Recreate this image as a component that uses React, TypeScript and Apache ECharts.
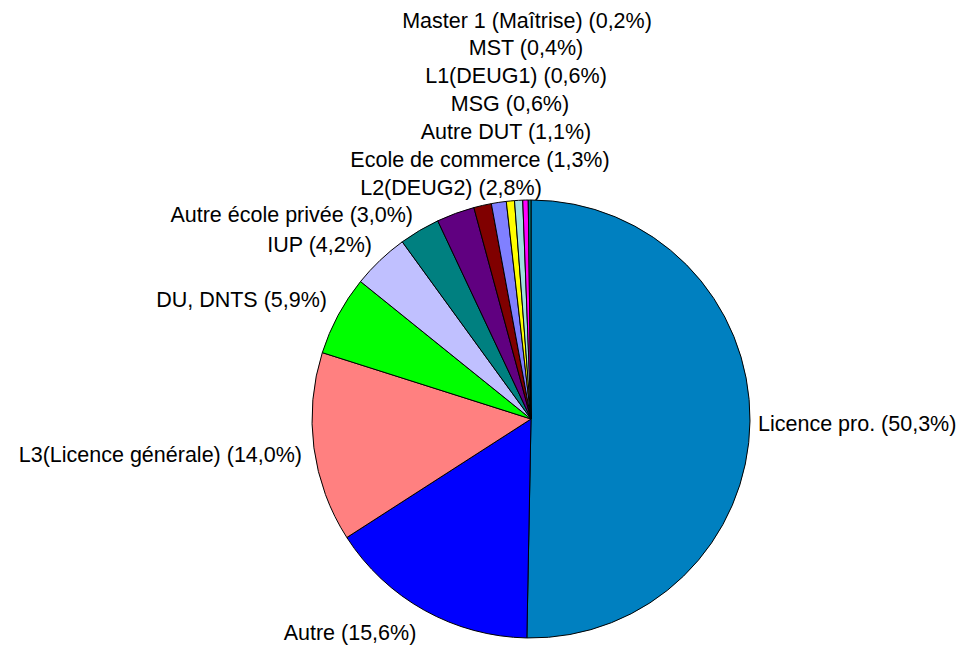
import React, { useEffect, useRef } from "react";
import * as echarts from "echarts";

const categories = [
  "Licence pro.",
  "Autre",
  "L3(Licence générale)",
  "DU, DNTS",
  "IUP",
  "Autre école privée",
  "L2(DEUG2)",
  "Ecole de commerce",
  "Autre DUT",
  "MSG",
  "L1(DEUG1)",
  "MST",
  "Master 1 (Maîtrise)",
];
const values = [50.3, 15.6, 14.0, 5.9, 4.2, 3.0, 2.8, 1.3, 1.1, 0.6, 0.6, 0.4, 0.2];
const colors = [
  "#0080C0", "#0000FF", "#FF8080", "#00FF00", "#C0C0FF", "#008080",
  "#600080", "#800000", "#8080FF", "#FFFF00", "#A0E0E0", "#FF00FF", "#008080",
];

// label anchor positions (x, y, align) — layout only
const labelPos: [number, number, string][] = [
  [758, 424, "left"],
  [350, 633, "center"],
  [302, 455, "right"],
  [327, 300, "right"],
  [372, 244.5, "right"],
  [413, 214.5, "right"],
  [451, 187.5, "center"],
  [480, 160, "center"],
  [506, 132, "center"],
  [510, 104, "center"],
  [516, 76, "center"],
  [526, 47.5, "center"],
  [527, 20.5, "center"],
];

export default function App() {
  const ref = useRef<HTMLDivElement>(null);
  useEffect(() => {
    document.body.style.margin = "0";
    const chart = echarts.init(ref.current!, null, { renderer: "svg" });
    chart.setOption({
      animation: false,
      backgroundColor: "#FFFFFF",
      series: [
        {
          type: "pie",
          center: [531, 419],
          radius: 219,
          startAngle: 90,
          clockwise: true,
          avoidLabelOverlap: false,
          data: categories.map((c, i) => ({
            name: c,
            value: values[i],
            itemStyle: { color: colors[i] },
          })),
          itemStyle: { borderColor: "#000000", borderWidth: 1 },
          label: {
            show: true,
            formatter: (p: any) =>
              `${p.name} (${values[p.dataIndex].toFixed(1).replace(".", ",")}%)`,
            color: "#000000",
            fontFamily: "Liberation Sans, Arial, sans-serif",
            fontSize: 21.5,
          },
          labelLine: { show: false },
          labelLayout: (params: any) => {
            const p = labelPos[params.dataIndex];
            return { x: p[0], y: p[1], align: p[2], verticalAlign: "middle" };
          },
          emphasis: { disabled: true },
        },
      ],
    });
    return () => chart.dispose();
  }, []);
  return <div ref={ref} style={{ width: 965, height: 646 }} />;
}
